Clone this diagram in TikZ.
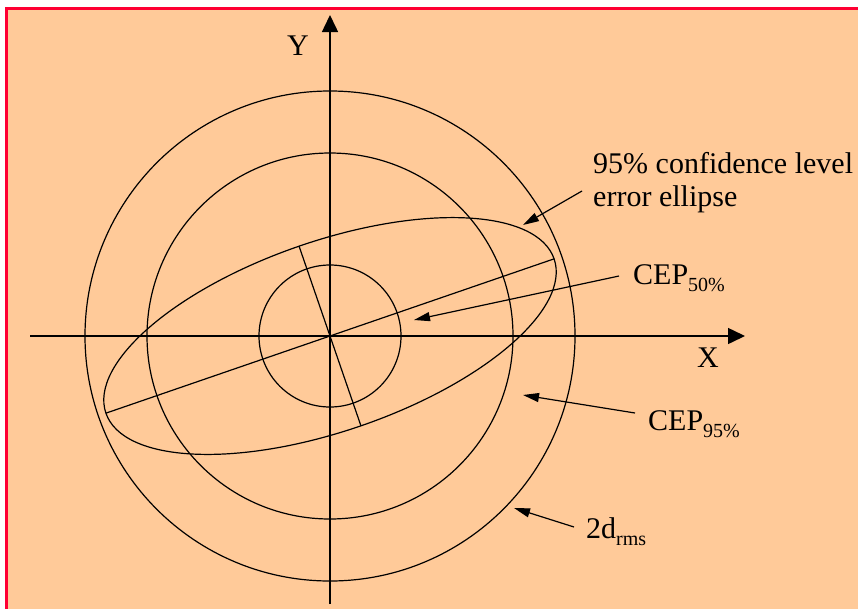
\documentclass[tikz,border=0pt]{standalone}
\usepackage{fontspec}
\setmainfont{Liberation Serif}
\usetikzlibrary{arrows.meta}
\definecolor{peach}{RGB}{255,202,153}
\definecolor{framered}{RGB}{255,0,51}
\newcommand\lowsub[1]{\raisebox{-7pt}{\fontsize{20}{20}\selectfont #1}}
\begin{document}
\begin{tikzpicture}[x=1pt,y=-1pt,
  curve/.style={line width=1.2pt},
  axis/.style={line width=1.5pt, -{Triangle[length=17pt,width=16pt]}},
  pointer/.style={line width=1.2pt, -{Triangle[length=16pt,width=9pt]}},
  lbl/.style={inner sep=0pt, font=\fontsize{30}{33}\selectfont, anchor=base west}]
\useasboundingbox (0,0) rectangle (858,608);
\clip (0,0) rectangle (858,608);
\fill[white] (0,0) rectangle (858,608);
\draw[fill=peach, draw=framered, line width=3.5pt] (6.5,8.7) rectangle (890,640);
\coordinate (c) at (330,336);
% circles
\draw[curve] (c) circle[radius=71pt];
\draw[curve] (c) circle[radius=183pt];
\draw[curve] (c) circle[radius=245pt];
% ellipse with axes
\begin{scope}[shift={(c)}, rotate=19]
  \draw[curve] (0pt,0pt) ellipse[x radius=237pt, y radius=95pt];
  \draw[curve] (-237pt,0pt) -- (237pt,0pt);
  \draw[curve] (0pt,-95pt) -- (0pt,95pt);
\end{scope}
% axes
\coordinate (xl) at (30,336);
\coordinate (xr) at (745,336);
\coordinate (yb) at (330,604);
\coordinate (yt) at (330,15);
\draw[axis] (xl) -- (xr);
\draw[axis] (yb) -- (yt);
\node[lbl] (ylab) at (287,55) {Y};
\node[lbl] (xlab) at (697,367) {X};
% labels
\node[lbl] (conf1) at (593,173) {95\% confidence level};
\node[lbl] (conf2) at (593,206) {error ellipse};
\node[lbl] (cep50) at (633,284) {CEP\lowsub{50\%}};
\node[lbl] (cep95) at (648,430) {CEP\lowsub{95\%}};
\node[lbl] (drms) at (586,538) {2d\lowsub{rms}};
% pointers
\coordinate (p1s) at (582,191);
\coordinate (p1e) at (523,225);
\coordinate (p2s) at (619,276);
\coordinate (p2e) at (414,320);
\coordinate (p3s) at (635,413);
\coordinate (p3e) at (523,395);
\coordinate (p4s) at (574,527);
\coordinate (p4e) at (514,508);
\draw[pointer] (p1s) -- (p1e);
\draw[pointer] (p2s) -- (p2e);
\draw[pointer] (p3s) -- (p3e);
\draw[pointer] (p4s) -- (p4e);
\end{tikzpicture}
\end{document}
